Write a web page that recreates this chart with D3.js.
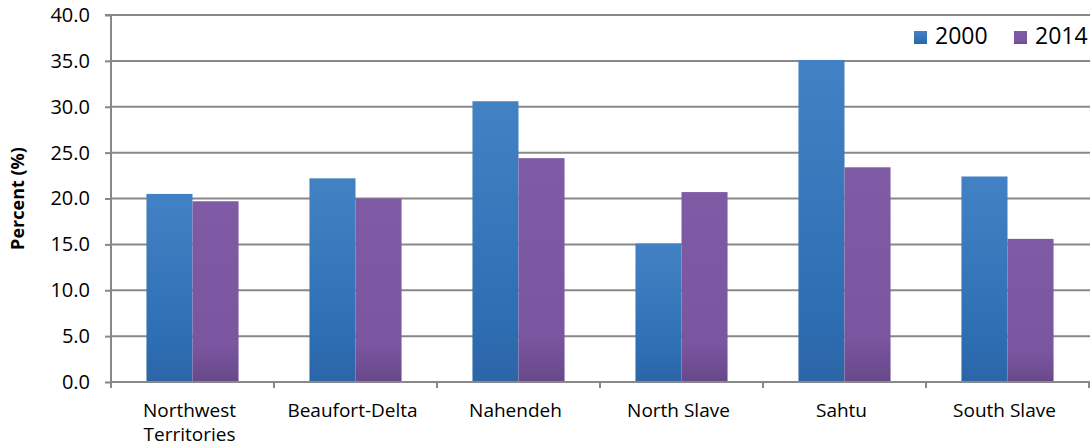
<!DOCTYPE html>
<html>
<head>
<meta charset="utf-8">
<script src="https://cdn.jsdelivr.net/npm/d3@7"></script>
<style>
  body { margin: 0; background: #fff; }
  svg { display: block; font-family: "Open Sans", "Noto Sans", sans-serif; }
</style>
</head>
<body>
<svg id="chart" width="1090" height="447"></svg>
<script>
// Regions and their percentages for 2000 and 2014
const regions = ["Northwest Territories", "Beaufort-Delta", "Nahendeh", "North Slave", "Sahtu", "South Slave"];
const years = ["2000", "2014"];
const values2000 = [20.5, 22.2, 30.6, 15.1, 35.1, 22.4];
const values2014 = [19.7, 20.0, 24.4, 20.7, 23.4, 15.6];
const yTicks = [0, 5, 10, 15, 20, 25, 30, 35, 40];

const svg = d3.select("#chart");
const margin = { left: 111, right: 1089, top: 15, bottom: 382 };

const x = d3.scaleBand().domain(regions).range([margin.left, margin.right]).paddingInner(0.435).paddingOuter(0.2175);
const xSub = d3.scaleBand().domain(years).range([0, x.bandwidth()]);
const y = d3.scaleLinear().domain([0, 40]).range([margin.bottom, margin.top]);

const colors = { "2000": ["#4282c4", "#2d6db2", "#2c65a6"], "2014": ["#7f5aa5", "#7a55a0", "#684889"] };

const defs = svg.append("defs");
years.forEach(yr => {
  const g = defs.append("linearGradient").attr("id", "grad" + yr).attr("x1", 0).attr("y1", 0).attr("x2", 0).attr("y2", 1);
  g.append("stop").attr("offset", "0%").attr("stop-color", colors[yr][0]);
  g.append("stop").attr("offset", "80%").attr("stop-color", colors[yr][1]);
  g.append("stop").attr("offset", "100%").attr("stop-color", colors[yr][2]);
});

// Horizontal gridlines
svg.append("g").selectAll("line").data(yTicks.slice(1)).join("line")
  .attr("x1", margin.left).attr("x2", 1090)
  .attr("y1", d => y(d)).attr("y2", d => y(d))
  .attr("stroke", "#888").attr("stroke-width", 2);

// Bars
const rows = regions.map((r, i) => ({ region: r, "2000": values2000[i], "2014": values2014[i] }));
const groups = svg.append("g").selectAll("g").data(rows).join("g")
  .attr("transform", d => `translate(${x(d.region)},0)`);
groups.selectAll("rect").data(d => years.map(yr => ({ yr, v: d[yr] }))).join("rect")
  .attr("x", d => xSub(d.yr))
  .attr("width", xSub.bandwidth())
  .attr("y", d => y(d.v))
  .attr("height", d => y(0) - y(d.v))
  .attr("fill", d => `url(#grad${d.yr})`);

// Y axis
const yAxis = d3.axisLeft(y).tickValues(yTicks).tickFormat(d3.format(".1f")).tickSize(6).tickPadding(15);
const ya = svg.append("g").attr("transform", `translate(${margin.left},0)`).call(yAxis);
ya.select(".domain").attr("stroke", "#888").attr("stroke-width", 2).attr("d", `M-6,${y(40)}H0V${y(0)}`);
ya.selectAll(".tick line").attr("stroke", "#888").attr("stroke-width", 2);
ya.selectAll(".tick text").attr("font-size", 20).attr("fill", "#000").attr("font-family", "Open Sans, sans-serif");

// X axis baseline and category separators
svg.append("line").attr("x1", margin.left).attr("x2", 1090).attr("y1", y(0)).attr("y2", y(0)).attr("stroke", "#888").attr("stroke-width", 2);
const seps = d3.range(regions.length + 1).map(i => margin.left + i * (margin.right - margin.left) / regions.length);
svg.append("g").selectAll("line").data(seps).join("line")
  .attr("x1", d => d).attr("x2", d => d)
  .attr("y1", y(0)).attr("y2", y(0) + 6)
  .attr("stroke", "#888").attr("stroke-width", 2);

// Category labels, wrapping "Northwest Territories"
const labelLines = { "Northwest Territories": ["Northwest", "Territories"] };
const lbl = svg.append("g").selectAll("text").data(regions).join("text")
  .attr("x", d => x(d) + x.bandwidth() / 2)
  .attr("y", 417)
  .attr("text-anchor", "middle")
  .attr("font-size", 19).attr("fill", "#000");
lbl.each(function(d) {
  const lines = labelLines[d] || [d];
  d3.select(this).selectAll("tspan").data(lines).join("tspan")
    .attr("x", x(d) + x.bandwidth() / 2 - 3)
    .attr("dy", (l, i) => i === 0 ? 0 : 24)
    .text(l => l);
});

// Y axis title
svg.append("text")
  .attr("transform", `translate(24,${(y(0) + y(40)) / 2}) rotate(-90)`)
  .attr("text-anchor", "middle")
  .attr("font-size", 18).attr("font-weight", "bold")
  .text("Percent (%)");

// Legend
const legendX = [914, 1014];
const lg = svg.append("g").selectAll("g").data(years).join("g")
  .attr("transform", (d, i) => `translate(${legendX[i]},0)`);
lg.append("rect").attr("x", 0).attr("y", 31).attr("width", 13).attr("height", 13).attr("fill", d => `url(#grad${d})`);
lg.append("text").attr("x", 21).attr("y", 44).attr("font-size", 23).text(d => d);
</script>
</body>
</html>
